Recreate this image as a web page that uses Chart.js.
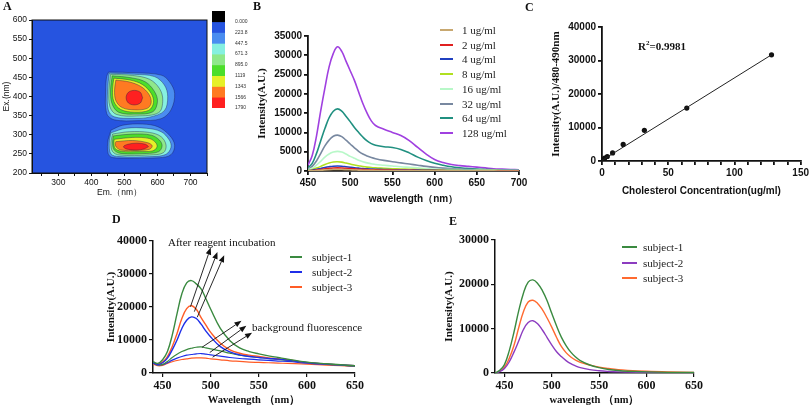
<!DOCTYPE html>
<html>
<head>
<meta charset="utf-8">
<script src="https://cdn.jsdelivr.net/npm/chart.js@4.4.1/dist/chart.umd.min.js"></script>
<style>
  body { margin: 0; background: #fff; overflow: hidden; }
  #fig { position: relative; width: 811px; height: 407px; overflow: hidden; background: #fff; }
  canvas { position: absolute; }
  .txt { position: absolute; font-family: "Liberation Serif", serif; color: #111; white-space: nowrap; }
  .tag { font-weight: bold; font-size: 12px; line-height: 12px; }
  .leg { position: absolute; font-family: "Liberation Serif", serif; font-size: 11px; line-height: 14px; color: #222; white-space: nowrap; }
  .leg .sw { position: absolute; left: 0; top: 6px; height: 2px; }
</style>
</head>
<body>
<div id="fig">
  <canvas id="chartA" width="210" height="205" style="left:0;top:0"></canvas>
  <canvas id="chartBar" width="60" height="120" style="left:200px;top:0"></canvas>
  <canvas id="chartB" width="290" height="210" style="left:240px;top:0"></canvas>
  <canvas id="chartC" width="281" height="210" style="left:530px;top:0"></canvas>
  <canvas id="chartD" width="410" height="207" style="left:0;top:205px"></canvas>
  <canvas id="chartE" width="401" height="207" style="left:410px;top:205px"></canvas>
</div>
<script>
// ---- A: excitation/emission contour (em nm, ex nm) ----
const levelLabels = ['0.000', '223.8', '447.5', '671.3', '895.0', '1119', '1343', '1566', '1790']
const barColors = ['#000000', '#2654e0', '#4a8df0', '#86f0e0', '#8fe88a', '#4cde2a', '#e6f028', '#ff7a22', '#ff2020']
const levelColors = ['#4a8df0', '#86f0e0', '#8fe88a', '#4cde2a', '#e6f028', '#ff7a22', '#ff2020']
const contourUpper = [
  [[452,464],[535,462],[611,456],[636,439],[652,408],[641,365],[611,342],[545,337],[469,339],[446,356],[443,417],[446,452]],
  [[454,461],[530,458],[591,452],[621,430],[631,400],[621,363],[576,346],[525,343],[469,347],[451,365],[449,417]],
  [[458,458],[525,455],[576,445],[606,421],[616,391],[604,358],[537,349],[476,353],[456,373],[453,417]],
  [[463,454],[520,449],[564,438],[591,413],[600,387],[586,360],[533,354],[482,359],[462,382],[458,419]],
  [[468,448],[517,443],[555,431],[581,408],[588,384],[574,364],[530,359],[489,366],[468,387],[464,419]],
  [[474,443],[515,438],[550,426],[574,406],[581,384],[569,369],[530,365],[493,371],[474,389],[470,417]],
  [[555,397],[548,383],[530,378],[512,383],[505,397],[512,411],[530,416],[548,411]]
]
const contourLower = [
  [[459,312],[495,325],[555,328],[601,321],[636,299],[652,273],[641,248],[606,240],[484,239],[454,245],[449,278]],
  [[459,305],[505,317],[566,317],[611,308],[636,286],[641,267],[626,249],[586,243],[484,243],[459,250],[454,278]],
  [[464,302],[515,308],[576,306],[611,295],[626,273],[618,253],[576,247],[484,247],[464,256],[459,278]],
  [[466,297],[525,302],[581,299],[606,286],[614,271],[604,256],[566,251],[490,251],[469,260],[464,278]],
  [[469,288],[525,293],[576,290],[596,278],[598,267],[586,258],[545,256],[490,257],[472,264],[468,278]],
  [[474,282],[525,285],[571,279],[584,271],[576,262],[535,259],[490,260],[476,267],[472,276]],
  [[573,269],[560,263],[537,260],[505,263],[497,269],[510,275],[537,278],[564,275]]
]

// ---- B: emission spectra by concentration ----
const wlB = [450,455,460,465,470,475,480,485,490,495,500,505,510,515,520,525,530,540,550,560,570,580,590,600,610,620,630,640,650,660,670,680,690,700]
const concNames = ['1 ug/ml', '2 ug/ml', '4 ug/ml', '8 ug/ml', '16 ug/ml', '32 ug/ml', '64 ug/ml', '128 ug/ml']
const concColors = ['#c8a870', '#e02020', '#2040c0', '#b0e020', '#b8f8c8', '#7888a0', '#209080', '#a040e0']
const b1 = [30,60,120,200,280,340,385,400,385,350,310,270,235,205,180,160,145,125,110,95,85,70,60,50,45,40,35,30,25,22,20,18,16,15]
const b2 = [50,120,250,400,560,690,770,800,770,700,620,540,470,410,360,320,290,250,220,190,165,140,120,100,85,75,65,55,50,45,40,35,30,30]
const b4 = [100,200,400,650,900,1100,1250,1300,1250,1120,980,850,740,640,560,500,450,390,340,300,260,220,190,160,130,110,100,90,80,70,60,55,50,45]
const b8 = [150,350,750,1200,1700,2100,2350,2400,2300,2050,1800,1550,1350,1150,1000,900,800,700,600,520,450,380,320,260,210,180,150,130,110,100,90,80,70,60]
const b16 = [300,700,1500,2500,3600,4400,4900,5100,4900,4400,3800,3300,2800,2400,2100,1900,1700,1500,1300,1100,950,800,650,500,400,350,300,250,200,180,150,130,120,110]
const b32 = [500,1200,2600,4500,6500,8000,9000,9300,8900,8000,7000,6000,5100,4400,3900,3500,3200,2750,2400,2100,1800,1500,1200,950,750,600,500,400,330,280,240,210,190,170]
const b64 = [800,2000,4500,7800,11000,13800,15500,16100,15500,14200,12800,11300,10000,8800,7800,7100,6700,6300,6100,5600,4700,3600,2700,2000,1500,1100,850,650,500,400,320,260,220,200]
const b128 = [1500,4000,9000,15500,21500,27000,30500,32200,31000,28500,26000,23500,20500,17500,15000,13000,11800,10800,10000,9200,7900,6100,4400,3000,2200,1700,1400,1200,1000,800,600,500,400,300]
const seriesB = [b1, b2, b4, b8, b16, b32, b64, b128]

// ---- C: calibration ----
const concC = [1, 2, 4, 8, 16, 32, 64, 128]
const intensityC = [450, 850, 1350, 2400, 4950, 9150, 15800, 31700]
const fitX = [0, 128]
const fitY = [200, 31700]

// ---- D: subjects, after incubation and background ----
const subjNames = ['subject-1', 'subject-2', 'subject-3']
const colorsD = ['#3a8a40', '#1f2ee8', '#ff5c26']
const colorsE = ['#3a8a40', '#8c3cc0', '#ff6a30']
const wlD = [440,445,450,455,460,465,470,475,480,485,490,495,500,510,520,530,540,550,560,570,580,600,620,650]
const d1After = [3400,2900,4000,6500,11500,18000,24000,27300,28000,27000,25500,22500,19300,13500,9800,7600,6500,5800,5200,4700,4200,3300,2800,2200]
const d2After = [3200,2600,3100,4500,7000,10000,13500,16000,17000,16500,14800,12700,10900,8000,6400,5500,5000,4700,4400,4200,3900,3100,2700,2200]
const d3After = [3300,2700,3300,5000,8000,12000,16500,19500,20400,19300,16800,14500,12300,9000,7000,6000,5400,5000,4600,4300,4000,3100,2700,2200]
const d1Bg = [3200,2500,2600,3500,4700,5700,6500,7100,7500,7800,7900,7600,7300,6700,6000,5400,5000,4700,4400,4100,3800,3200,2700,2100]
const d2Bg = [3000,2400,2500,3100,3900,4500,5000,5400,5600,5800,5900,5700,5500,5100,4700,4400,4200,4000,3800,3600,3500,3000,2600,2100]
const d3Bg = [2800,2200,2300,2900,3400,3800,4100,4300,4500,4600,4600,4500,4300,4000,3700,3500,3300,3200,3100,3000,2900,2700,2400,2000]
// arrows: [fromNm, fromValue, toNm, toValue]
const arrowsD = [
  [479, 20100, 500, 38000], [483, 18600, 507, 36700], [486, 16900, 514, 35700],
  [491, 7800, 532, 15800], [499, 6200, 537, 14300], [502, 4800, 543, 12200]
]

// ---- E: subjects ----
const wlE = [440,445,450,455,460,465,470,475,480,485,490,495,500,505,510,515,520,525,530,540,550,560,570,580,600,625,650]
const e1 = [0,600,1900,5000,9200,14000,18000,20500,21000,20200,18600,16300,13400,10600,8100,6200,4700,3600,2800,1800,1200,800,550,400,250,150,100]
const e2 = [0,300,1000,2500,4700,7200,9800,11400,11800,11100,9700,8000,6300,4800,3700,2800,2100,1600,1200,750,500,350,250,200,120,80,60]
const e3 = [0,400,1300,3300,6200,10200,13800,16000,16400,15700,14300,12400,10300,8000,6000,4600,3600,2900,2400,1800,1300,1000,750,600,400,250,150]

// ---------------------------------------------------------------
const INK = '#111'
const SANS = '"Liberation Sans", Arial, sans-serif'
const SERIF = '"Liberation Serif", "Times New Roman", serif'
const xy = (xs, ys) => xs.map((x, i) => ({ x: x, y: ys[i] }))

function axis(o) {
  return {
    type: 'linear', min: o.min, max: o.max, position: o.pos,
    border: { display: true, color: INK, width: o.bw || 1.5 },
    grid: { drawOnChartArea: false, drawTicks: true, tickLength: o.tl || 4, color: INK, lineWidth: o.bw || 1.2 },
    ticks: {
      stepSize: o.step, color: INK, font: o.font, padding: 2, autoSkip: false,
      maxRotation: 0, includeBounds: false,
      callback: o.cb || (v => String(v))
    },
    title: { display: !!o.title, text: o.title, color: INK, font: o.tfont, padding: o.tpad || { top: 4, bottom: 4 } },
    afterFit: s => { if (s.isHorizontal()) s.height = o.size; else s.width = o.size }
  }
}

function lineSet(xs, ys, color, w) {
  return { data: xy(xs, ys), borderColor: color, backgroundColor: color, borderWidth: w || 1.5,
           pointRadius: 0, tension: 0.4, fill: false }
}

const baseOpts = (pad, scales, extra) => Object.assign({
  responsive: false, animation: false,
  layout: { padding: pad },
  plugins: { legend: { display: false }, tooltip: { enabled: false } },
  scales: scales
}, extra || {})

// ---- panel A ----
const datasetsA = []
;[contourUpper, contourLower].forEach(blob => blob.forEach((poly, k) => {
  const pts = poly.map(p => ({ x: p[0], y: p[1] }))
  pts.push(pts[0])
  datasetsA.push({ data: pts, backgroundColor: levelColors[k], borderColor: 'rgba(20,20,70,0.55)',
                   borderWidth: 0.7, fill: 'shape', tension: 0.35, pointRadius: 0, order: 10 - k })
}))

const bgPlugin = {
  id: 'plotBg',
  beforeDraw(chart) {
    const a = chart.chartArea, ctx = chart.ctx
    ctx.save(); ctx.fillStyle = barColors[1]
    ctx.fillRect(a.left, a.top, a.right - a.left, a.bottom - a.top)
    ctx.restore()
  },
  afterDraw(chart) {
    const a = chart.chartArea, ctx = chart.ctx
    ctx.save(); ctx.strokeStyle = INK; ctx.lineWidth = 1
    ctx.strokeRect(a.left, a.top, a.right - a.left, a.bottom - a.top)
    ctx.restore()
  }
}

new Chart(document.getElementById('chartA'), {
  type: 'line',
  data: { datasets: datasetsA },
  options: baseOpts({ left: 0, right: 3, top: 20, bottom: 3 }, {
    x: axis({ min: 220, max: 750, step: 50, bw: 1, tl: 3, size: 29,
              cb: v => v % 100 === 0 ? String(v) : '',
              font: { family: SANS, size: 8.5 }, title: 'Em.（nm）', tfont: { family: SANS, size: 8.5 } }),
    y: axis({ min: 200, max: 600, step: 50, bw: 1, tl: 3, size: 32,
              font: { family: SANS, size: 8.5 }, title: 'Ex.(nm)', tfont: { family: SANS, size: 8.5 },
              tpad: { top: 2, bottom: 2 } })
  }),
  plugins: [bgPlugin]
})

// colour bar
new Chart(document.getElementById('chartBar'), {
  type: 'bar',
  data: {
    labels: [''],
    datasets: barColors.map(c => ({ data: [1], backgroundColor: c, borderWidth: 0,
                                    categoryPercentage: 1, barPercentage: 1 }))
  },
  options: baseOpts({ left: 12, right: 0, top: 11, bottom: 12 }, {
    x: { stacked: true, display: false },
    y: {
      stacked: true, reverse: true, min: 0, max: levelLabels.length, position: 'right',
      border: { display: false }, grid: { display: false },
      ticks: { stepSize: 1, padding: 2, color: '#333', font: { family: SANS, size: 5 },
               callback: v => v > 0 ? levelLabels[v - 1] : '' },
      afterFit: s => { s.width = 35 }
    }
  })
})

// ---- panel B ----
new Chart(document.getElementById('chartB'), {
  type: 'line',
  data: { datasets: seriesB.map((s, i) => lineSet(wlB, s, concColors[i], 1.6)) },
  options: baseOpts({ left: 12, right: 11, top: 36, bottom: 1 }, {
    x: axis({ min: 450, max: 700, step: 50, size: 38, bw: 1.8,
              font: { family: SANS, size: 10, weight: 'bold' },
              title: 'wavelength（nm）', tfont: { family: SANS, size: 10, weight: 'bold' } }),
    y: axis({ min: 0, max: 35000, step: 5000, size: 56, bw: 1.8,
              font: { family: SANS, size: 10, weight: 'bold' },
              title: 'Intensity(A.U.)', tfont: { family: SERIF, size: 11, weight: 'bold' } })
  })
})

// ---- panel C ----
new Chart(document.getElementById('chartC'), {
  type: 'line',
  data: {
    datasets: [
      { data: xy(fitX, fitY), borderColor: '#222', borderWidth: 1, pointRadius: 0, fill: false },
      { data: xy(concC, intensityC), showLine: false, pointRadius: 2.6, pointBackgroundColor: '#111',
        pointBorderWidth: 0, borderColor: '#111' }
    ]
  },
  options: baseOpts({ left: 16, right: 9, top: 27, bottom: 9 }, {
    x: axis({ min: 0, max: 150, step: 10, size: 40, bw: 1.8,
              cb: v => v % 50 === 0 ? String(v) : '',
              font: { family: SANS, size: 10, weight: 'bold' },
              title: 'Cholesterol Concentration(ug/ml)', tfont: { family: SANS, size: 10, weight: 'bold' } }),
    y: axis({ min: 0, max: 40000, step: 10000, size: 56, bw: 1.8,
              font: { family: SANS, size: 10, weight: 'bold' },
              title: 'Intensity(A.U.)/480-490nm', tfont: { family: SERIF, size: 11, weight: 'bold' } })
  })
})

// ---- panel D ----
const arrowPlugin = {
  id: 'arrows',
  afterDatasetsDraw(chart) {
    const { ctx, scales: { x, y } } = chart
    ctx.save()
    ctx.strokeStyle = INK; ctx.fillStyle = INK; ctx.lineWidth = 0.9
    arrowsD.forEach(([x0, y0, x1, y1]) => {
      const ax = x.getPixelForValue(x0), ay = y.getPixelForValue(y0)
      const bx = x.getPixelForValue(x1), by = y.getPixelForValue(y1)
      const ang = Math.atan2(by - ay, bx - ax)
      const hl = 7, hw = 2.8
      const ex = bx - hl * Math.cos(ang), ey = by - hl * Math.sin(ang)
      ctx.beginPath(); ctx.moveTo(ax, ay); ctx.lineTo(ex, ey); ctx.stroke()
      ctx.beginPath(); ctx.moveTo(bx, by)
      ctx.lineTo(ex + hw * Math.sin(ang), ey - hw * Math.cos(ang))
      ctx.lineTo(ex - hw * Math.sin(ang), ey + hw * Math.cos(ang))
      ctx.closePath(); ctx.fill()
    })
    ctx.restore()
  }
}

const afterD = [d1After, d2After, d3After]
const bgD = [d1Bg, d2Bg, d3Bg]
new Chart(document.getElementById('chartD'), {
  type: 'line',
  data: {
    datasets: afterD.map((s, i) => lineSet(wlD, s, colorsD[i], 1.4))
      .concat(bgD.map((s, i) => lineSet(wlD, s, colorsD[i], 1.2)))
  },
  options: baseOpts({ left: 101, right: 55, top: 36, bottom: 1 }, {
    x: axis({ min: 440, max: 650, step: 50, size: 38,
              font: { family: SERIF, size: 12, weight: 'bold' },
              title: 'Wavelength （nm）', tfont: { family: SERIF, size: 10.5, weight: 'bold' } }),
    y: axis({ min: 0, max: 40000, step: 10000, size: 52,
              font: { family: SERIF, size: 12, weight: 'bold' },
              title: 'Intensity(A.U.)', tfont: { family: SERIF, size: 11, weight: 'bold' } })
  }),
  plugins: [arrowPlugin]
})

// ---- panel E ----
new Chart(document.getElementById('chartE'), {
  type: 'line',
  data: { datasets: [e1, e2, e3].map((s, i) => lineSet(wlE, s, colorsE[i], 1.4)) },
  options: baseOpts({ left: 29, right: 117, top: 35, bottom: 1 }, {
    x: axis({ min: 440, max: 650, step: 50, size: 38,
              font: { family: SERIF, size: 12, weight: 'bold' },
              title: 'wavelength （nm）', tfont: { family: SERIF, size: 10.5, weight: 'bold' } }),
    y: axis({ min: 0, max: 30000, step: 10000, size: 56,
              font: { family: SERIF, size: 12, weight: 'bold' },
              title: 'Intensity(A.U.)', tfont: { family: SERIF, size: 11, weight: 'bold' } })
  })
})

// ---- text, panel tags and legends ----
const fig = document.getElementById('fig')
function addText(html, left, top, cls, css) {
  const d = document.createElement('div')
  d.className = 'txt ' + (cls || '')
  d.style.left = left + 'px'; d.style.top = top + 'px'
  if (css) d.style.cssText += css
  d.innerHTML = html
  fig.appendChild(d)
}
function addLegend(names, colors, left, top, rowH, lineW, gap) {
  names.forEach((n, i) => {
    const row = document.createElement('div')
    row.className = 'leg'
    row.style.left = left + 'px'
    row.style.top = (top + i * rowH - 7) + 'px'
    row.style.paddingLeft = (lineW + gap) + 'px'
    row.innerHTML = '<span class="sw" style="width:' + lineW + 'px;background:' + colors[i] + '"></span>' + n
    fig.appendChild(row)
  })
}

addText('A', 3, 0, 'tag'); addText('B', 253, 0, 'tag'); addText('C', 525, 1, 'tag')
addText('D', 112, 213, 'tag'); addText('E', 449, 215, 'tag')
addText('R<sup style="font-size:7px">2</sup>=0.9981', 638, 36, '', 'font-weight:bold;font-size:11px;line-height:14px')
addText('After reagent incubation', 168, 235, '', 'font-size:11px;line-height:14px')
addText('background fluorescence', 252, 320, '', 'font-size:11px;line-height:14px')

addLegend(concNames, concColors, 440, 30, 14.7, 13, 9)
addLegend(subjNames, colorsD, 290, 257, 15, 12, 10)
addLegend(subjNames, colorsE, 622, 247, 15.7, 15, 6)
</script>
</body>
